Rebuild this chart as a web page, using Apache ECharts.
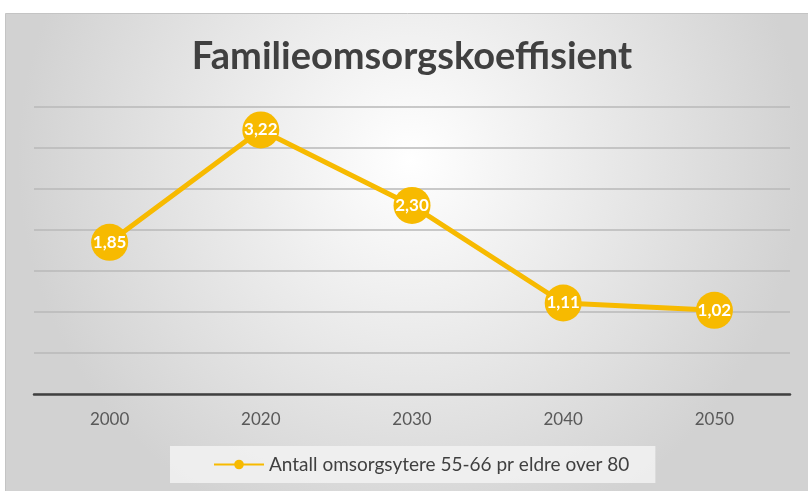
<!DOCTYPE html>
<html>
<head>
<meta charset="utf-8">
<script src="https://cdn.jsdelivr.net/npm/echarts@6/dist/echarts.min.js"></script>
<style>
  html, body { margin: 0; padding: 0; background: #fff; }
  #main { width: 808px; height: 491px; }
</style>
</head>
<body>
<div id="main"></div>
<script>
// data
var years = ['2000', '2020', '2030', '2040', '2050'];
var koeffisient = [1.85, 3.22, 2.30, 1.11, 1.02];
var seriesName = 'Antall omsorgsytere 55-66 pr eldre over 80';

var myChart = echarts.init(document.getElementById('main'));
var gold = '#F7BA00';
var option = {
    backgroundColor: '#fff',
    graphic: [{
        type: 'rect',
        z: -10,
        silent: true,
        shape: { x: 5.5, y: 13.5, width: 810, height: 490 },
        style: {
            fill: new echarts.graphic.RadialGradient(0.5, 0.3, 0.8, [
                { offset: 0, color: '#ffffff' },
                { offset: 1, color: '#d2d2d2' }
            ]),
            stroke: '#c4c4c4',
            lineWidth: 1
        }
    }],
    title: {
        text: 'Familieomsorgskoeffisient',
        left: 407,
        textAlign: 'center',
        top: 33,
        textStyle: {
            fontFamily: 'Lato',
            fontWeight: 'bold',
            fontSize: 38,
            color: '#404040'
        }
    },
    legend: {
        data: [seriesName],
        bottom: 8,
        left: 170,
        backgroundColor: 'rgba(242,242,242,0.85)',
        padding: [9, 26, 9, 43],
        itemWidth: 50,
        itemHeight: 12,
        itemGap: 4,
        textStyle: {
            fontFamily: 'Lato',
            fontSize: 19,
            color: '#404040'
        }
    },
    grid: {
        left: 34,
        right: 18,
        top: 107,
        bottom: 97
    },
    xAxis: {
        type: 'category',
        data: years,
        boundaryGap: true,
        axisTick: { show: false },
        axisLine: { lineStyle: { color: '#404040', width: 2.5 } },
        axisLabel: {
            margin: 17,
            fontFamily: 'Lato',
            fontSize: 17,
            color: '#595959'
        }
    },
    yAxis: {
        type: 'value',
        min: 0,
        max: 3.5,
        interval: 0.5,
        axisLabel: { show: false },
        axisLine: { show: false },
        axisTick: { show: false },
        splitLine: { lineStyle: { color: '#b8b8b8', width: 1.5 } }
    },
    series: [{
        name: seriesName,
        type: 'line',
        data: koeffisient,
        symbol: 'circle',
        symbolSize: 37,
        lineStyle: { color: gold, width: 5 },
        itemStyle: { color: gold },
        label: {
            show: true,
            position: 'inside',
            color: '#ffffff',
            fontFamily: 'Lato',
            fontWeight: 'bold',
            fontSize: 17,
            formatter: function (p) { return p.value.toFixed(2).replace('.', ','); }
        }
    }]
};
myChart.setOption(option);
window.addEventListener('resize', myChart.resize);
</script>
</body>
</html>
